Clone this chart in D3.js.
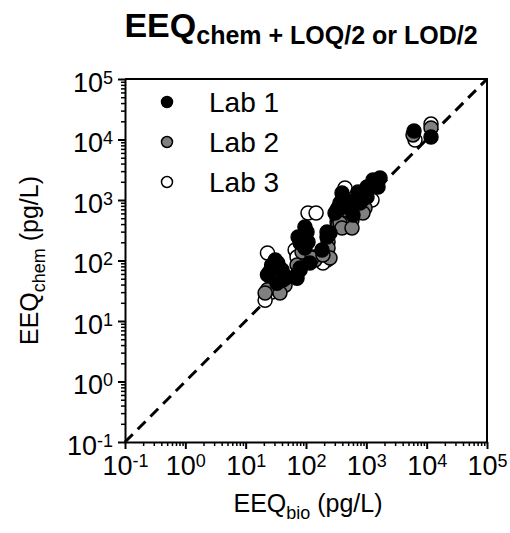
<!DOCTYPE html>
<html>
<head>
<meta charset="utf-8">
<script src="https://cdn.jsdelivr.net/npm/d3@7"></script>
<style>
  html, body { margin: 0; padding: 0; background: #fff; }
  svg { display: block; font-family: Arial, "Liberation Sans", sans-serif; }
</style>
</head>
<body>
<svg id="chart" width="510" height="533"></svg>
<script>
// Decade exponents used for the major ticks on both axes
const tickExponents = [-1, 0, 1, 2, 3, 4, 5];

// Lab results: [EEQ_bio, EEQ_chem] in pg/L
const lab1 = [
  [31, 102], [34, 91], [25, 65], [23, 58], [40, 70], [33, 42], [42, 48], [48, 53], [27, 84],
  [74, 245], [80, 195], [71, 51], [80, 70], [96, 358], [104, 296], [86, 235], [108, 202],
  [96, 161], [116, 91], [71, 58], [80, 75], [223, 245], [250, 285], [184, 149], [223, 296],
  [366, 891], [340, 738], [443, 765], [536, 891], [411, 1120], [303, 610], [601, 565],
  [701, 1080], [728, 1360], [785, 891], [1026, 1640], [1026, 1120], [1291, 2140],
  [1393, 1910], [1686, 2310], [395, 1310], [327, 684], [479, 891], [847, 1000],
  [951, 1360], [1563, 1640], [6170, 13800], [11800, 11000]
];
const lab2 = [
  [28, 48], [45, 39], [23, 33], [21, 29], [37, 29], [71, 84], [86, 138], [131, 114],
  [141, 102], [126, 110], [232, 202], [232, 161], [250, 110], [191, 123], [327, 524],
  [340, 386], [536, 358], [411, 358], [579, 467], [951, 738], [880, 610], [366, 417],
  [395, 344], [579, 344], [5940, 11900], [11800, 15500]
];
const lab3 = [
  [23, 133], [27, 30], [21, 22], [71, 133], [108, 610], [147, 610], [66, 149], [71, 114],
  [223, 102], [443, 1580], [327, 433], [728, 1120], [1242, 1000], [340, 467], [880, 891],
  [191, 91], [6410, 9810], [11800, 18000]
];

const labNames = ["Lab 1", "Lab 2", "Lab 3"];
const labFills = ["#000000", "#808080", "#ffffff"];

const svg = d3.select("#chart");
const plotLeft = 125, plotRight = 487, plotTop = 79, plotBottom = 442;

const x = d3.scaleLog().domain([0.1, 1e5]).range([plotLeft, plotRight]);
const y = d3.scaleLog().domain([0.1, 1e5]).range([plotBottom, plotTop]);

const majors = tickExponents.map(e => Math.pow(10, e));
const minors = [];
tickExponents.slice(0, -1).forEach(e => {
  for (let k = 2; k <= 9; k++) minors.push(k * Math.pow(10, e));
});

// Minor ticks
svg.append("g").attr("transform", `translate(0,${plotBottom})`)
  .call(d3.axisBottom(x).tickValues(minors).tickSize(4).tickFormat(""))
  .call(g => g.select(".domain").remove())
  .call(g => g.selectAll("line").attr("stroke-width", 1.5));
svg.append("g").attr("transform", `translate(${plotLeft},0)`)
  .call(d3.axisLeft(y).tickValues(minors).tickSize(4).tickFormat(""))
  .call(g => g.select(".domain").remove())
  .call(g => g.selectAll("line").attr("stroke-width", 1.5));

// Label writer: "10" with a raised exponent
function powerLabel(sel) {
  sel.each(function(d) {
    const t = d3.select(this);
    const e = Math.round(Math.log10(d));
    t.text(null);
    t.append("tspan").text("10");
    t.append("tspan").attr("dy", "-0.45em").attr("font-size", "18px")
      .text(e < 0 ? "-" + Math.abs(e) : String(e));
  });
}

// Major ticks and labels
svg.append("g").attr("transform", `translate(0,${plotBottom})`)
  .call(d3.axisBottom(x).tickValues(majors).tickSize(7).tickSizeOuter(0).tickPadding(7))
  .call(g => g.select(".domain").attr("stroke-width", 2))
  .call(g => g.selectAll("line").attr("stroke-width", 2))
  .call(g => g.selectAll("text").attr("font-size", "27px").attr("fill", "#000")
    .attr("font-family", "Arial, 'Liberation Sans', sans-serif").call(powerLabel));

svg.append("g").attr("transform", `translate(${plotLeft},0)`)
  .call(d3.axisLeft(y).tickValues(majors).tickSize(7).tickSizeOuter(0).tickPadding(5))
  .call(g => g.select(".domain").attr("stroke-width", 2))
  .call(g => g.selectAll("line").attr("stroke-width", 2))
  .call(g => g.selectAll("text").attr("font-size", "27px").attr("fill", "#000")
    .attr("dy", "0.45em")
    .attr("font-family", "Arial, 'Liberation Sans', sans-serif").call(powerLabel));

// Top and right frame
svg.append("path")
  .attr("d", `M${plotLeft},${plotTop}H${plotRight}V${plotBottom}`)
  .attr("fill", "none").attr("stroke", "#000").attr("stroke-width", 2);

// 1:1 line
svg.append("line")
  .attr("x1", x(0.1)).attr("y1", y(0.1)).attr("x2", x(1e5)).attr("y2", y(1e5))
  .attr("stroke", "#000").attr("stroke-width", 3).attr("stroke-dasharray", "11,7");

// Points, Lab 3 underneath, Lab 1 on top
[[lab3, 2], [lab2, 1], [lab1, 0]].forEach(([data, i]) => {
  svg.append("g").selectAll("circle").data(data).join("circle")
    .attr("cx", d => x(d[0])).attr("cy", d => y(d[1])).attr("r", 7)
    .attr("fill", labFills[i]).attr("stroke", "#000").attr("stroke-width", 1.5);
});

// Legend
const legend = svg.append("g");
labNames.forEach((name, i) => {
  const ly = 102 + i * 40;
  legend.append("circle").attr("cx", 167).attr("cy", ly).attr("r", 5.5)
    .attr("fill", labFills[i]).attr("stroke", "#000").attr("stroke-width", 1.5);
  legend.append("text").attr("x", 209).attr("y", ly + 10)
    .attr("font-size", "28px").text(name);
});

// Title
const title = svg.append("text").attr("x", 301).attr("y", 37)
  .attr("text-anchor", "middle").attr("font-weight", "bold").attr("font-size", "34px");
title.append("tspan").text("EEQ");
title.append("tspan").attr("dy", 7).attr("font-size", "25px").text("chem + LOQ/2 or LOD/2");

// X axis title
const xt = svg.append("text").attr("x", 308).attr("y", 512)
  .attr("text-anchor", "middle").attr("font-size", "25px");
xt.append("tspan").text("EEQ");
xt.append("tspan").attr("dy", 7).attr("font-size", "18px").text("bio");
xt.append("tspan").attr("dy", -7).text(" (pg/L)");

// Y axis title
const yt = svg.append("text")
  .attr("transform", `translate(38,${(plotTop + plotBottom) / 2}) rotate(-90)`)
  .attr("text-anchor", "middle").attr("font-size", "25px");
yt.append("tspan").text("EEQ");
yt.append("tspan").attr("dy", 7).attr("font-size", "18px").text("chem");
yt.append("tspan").attr("dy", -7).text(" (pg/L)");
</script>
</body>
</html>
